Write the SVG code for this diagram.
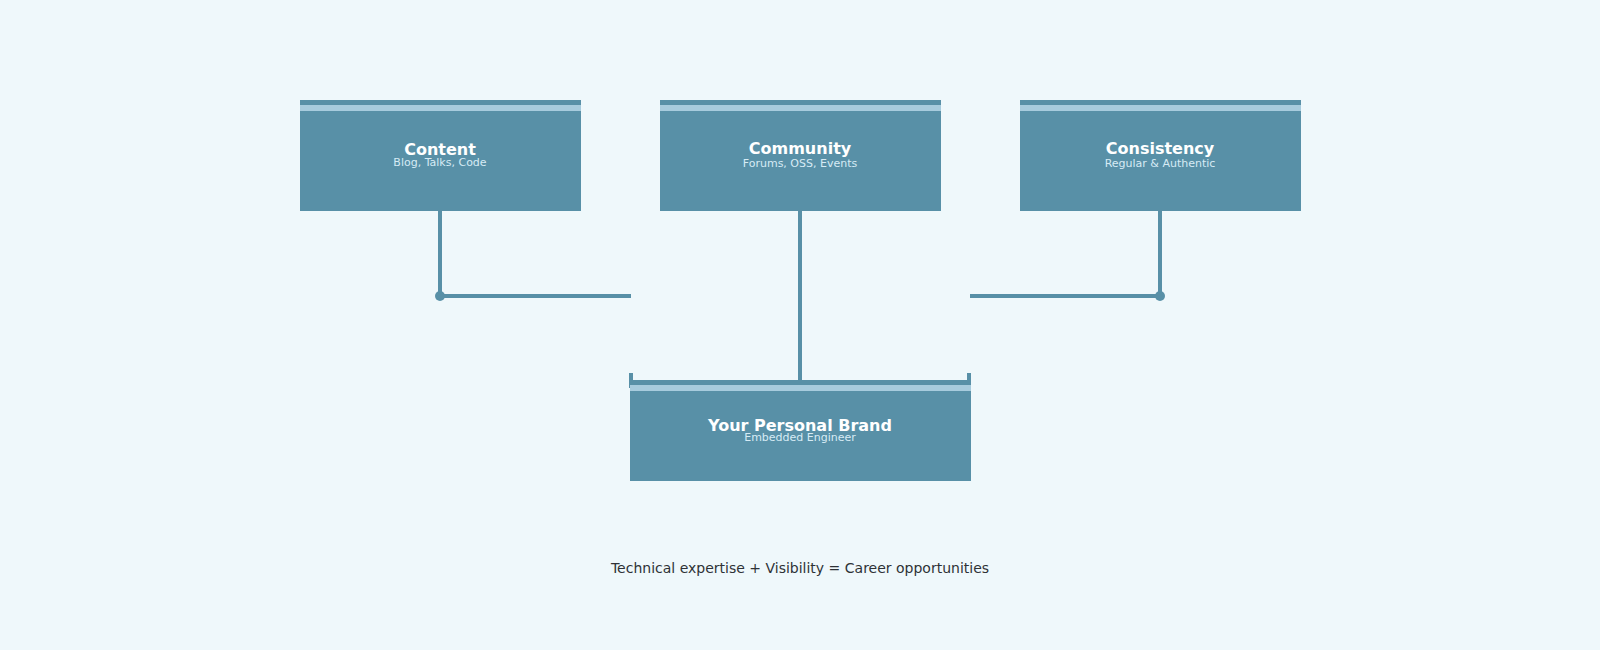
<svg xmlns="http://www.w3.org/2000/svg" width="1600" height="650" viewBox="0 0 1600 650">
<style>
.box{fill:#5890a7}
.stripe{fill:#a7cbdd}
.title{font-family:"DejaVu Sans",sans-serif;font-weight:bold;font-size:16px;fill:#ffffff;text-anchor:middle}
.sub{font-family:"DejaVu Sans",sans-serif;font-size:11px;fill:#d6ebf5;text-anchor:middle}
.conn{stroke:#5890a7;stroke-width:4;fill:none}
.dot{fill:#5890a7}
.foot{font-family:"DejaVu Sans",sans-serif;font-size:14px;fill:#2e3236;text-anchor:middle}
</style>
<rect width="1600" height="650" fill="#eff8fb"/>
<g id="connectors">
<path class="conn" d="M440 211 V296 H631"/>
<circle class="dot" cx="440" cy="296" r="5"/>
<path class="conn" d="M1160 211 V296 H970"/>
<circle class="dot" cx="1160" cy="296" r="5"/>
<path class="conn" d="M800 211 V388"/>
<path class="conn" d="M630 382 H970"/>
<path class="conn" stroke-width="5" d="M631 373 V388 M969 373 V388"/>
</g>
<g id="content">
<rect class="box" x="300" y="100" width="281" height="111"/>
<rect class="stripe" x="300" y="105" width="281" height="6"/>
<text class="title" x="440" y="155">Content</text>
<text class="sub" x="440" y="166">Blog, Talks, Code</text>
</g>
<g id="community">
<rect class="box" x="660" y="100" width="281" height="111"/>
<rect class="stripe" x="660" y="105" width="281" height="6"/>
<text class="title" x="800" y="154">Community</text>
<text class="sub" x="800" y="167">Forums, OSS, Events</text>
</g>
<g id="consistency">
<rect class="box" x="1020" y="100" width="281" height="111"/>
<rect class="stripe" x="1020" y="105" width="281" height="6"/>
<text class="title" x="1160" y="154">Consistency</text>
<text class="sub" x="1160" y="167">Regular &amp; Authentic</text>
</g>
<g id="brand">
<rect class="box" x="630" y="384" width="341" height="97"/>
<rect class="stripe" x="630" y="385" width="341" height="6"/>
<text class="title" x="800" y="431">Your Personal Brand</text>
<text class="sub" x="800" y="441">Embedded Engineer</text>
</g>
<text class="foot" x="800" y="573">Technical expertise + Visibility = Career opportunities</text>
</svg>
